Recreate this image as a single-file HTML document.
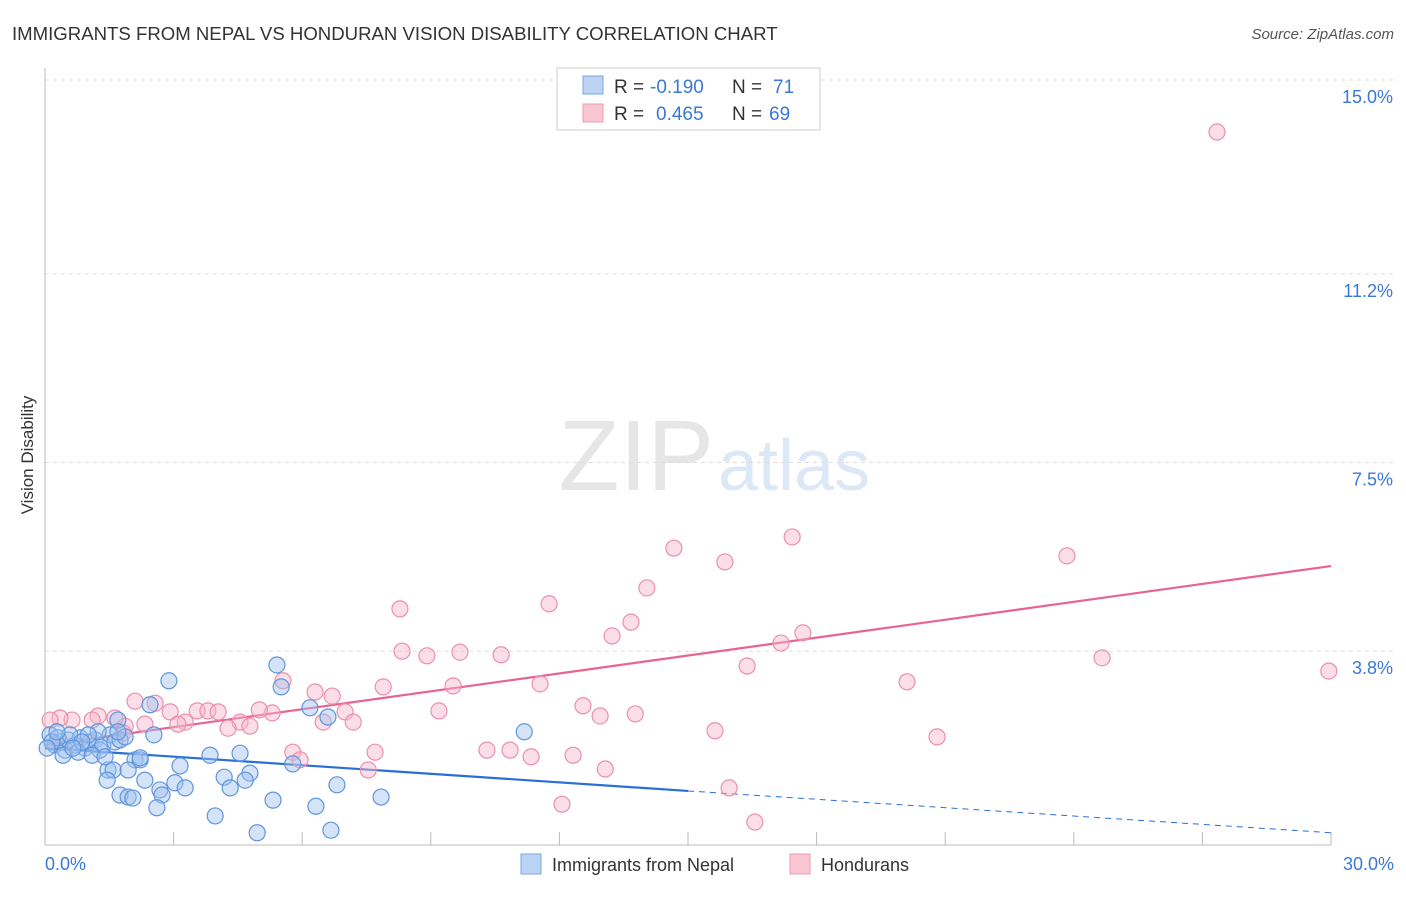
<!DOCTYPE html>
<html><head><meta charset="utf-8"><style>
body{margin:0;background:#fff;font-family:"Liberation Sans",sans-serif;}
svg text{font-family:"Liberation Sans",sans-serif;}
</style></head><body>
<svg id="chart" width="1406" height="892" viewBox="0 0 1406 892" xmlns="http://www.w3.org/2000/svg">
<text x="12" y="40" font-size="18.6" fill="#333">IMMIGRANTS FROM NEPAL VS HONDURAN VISION DISABILITY CORRELATION CHART</text>
<text x="1394" y="39" font-size="15" fill="#555" text-anchor="end" font-style="italic">Source: ZipAtlas.com</text>
<text x="714" y="490" font-size="100" fill="#e6e6e6" text-anchor="end" font-family="Liberation Serif">ZIP</text>
<text x="718" y="490" font-size="72" fill="#dce8f6">atlas</text>
<text transform="translate(33,455) rotate(-90)" font-size="17" fill="#333" text-anchor="middle">Vision Disability</text>
<g id="grid"></g>
<g id="axes"></g>
<g id="lines"></g>
<g id="pts"></g>
<g>
<rect x="557" y="68" width="263" height="62" fill="#fff" stroke="#ccc"/>
<rect x="583" y="76" width="20" height="18" fill="#bcd4f4" stroke="#7aa6e0"/>
<rect x="583" y="104" width="20" height="18" fill="#f9c6d4" stroke="#ee9ab0"/>
<text x="614" y="93" font-size="19" fill="#333">R =</text>
<text x="650" y="93" font-size="19" fill="#3b78d6">-0.190</text>
<text x="732" y="93" font-size="19" fill="#333">N =</text>
<text x="773" y="93" font-size="19" fill="#3b78d6">71</text>
<text x="614" y="120" font-size="19" fill="#333">R =</text>
<text x="656" y="120" font-size="19" fill="#3b78d6">0.465</text>
<text x="732" y="120" font-size="19" fill="#333">N =</text>
<text x="769" y="120" font-size="19" fill="#3b78d6">69</text>
</g>
<g>
<rect x="521" y="854" width="20" height="20" fill="#bcd4f4" stroke="#7aa6e0"/>
<text x="552" y="871" font-size="18" fill="#333">Immigrants from Nepal</text>
<rect x="790" y="854" width="20" height="20" fill="#f9c6d4" stroke="#ee9ab0"/>
<text x="821" y="871" font-size="18" fill="#333">Hondurans</text>
</g>
</svg>
<script>
const yTicks=[15.0,11.2,7.5,3.8];
const yTickLabels=["15.0%","11.2%","7.5%","3.8%"];
const xTickLabels=["0.0%","30.0%"];
const blueX=[2.89,5.41,5.51,6.18,6.60,2.45,1.70,2.54,11.18,3.85,4.55,5.78,3.15,2.10,2.22,1.47,1.59,1.94,2.33,1.45,3.03,3.27,4.18,4.32,4.78,4.67,6.81,2.68,2.73,1.75,1.94,2.05,2.61,5.32,6.32,7.84,3.97,4.95,6.67,0.12,0.23,0.35,0.47,0.54,0.70,0.82,0.93,1.05,1.17,1.28,1.35,1.52,1.63,1.75,1.87,1.24,1.01,0.30,0.16,0.58,0.77,1.10,1.40,0.42,2.22,1.70,0.86,0.65,0.05,0.28];
const blueY=[3.22,3.53,3.10,2.69,2.51,2.75,2.45,2.16,2.22,1.76,1.80,1.59,1.55,1.67,1.67,1.47,1.47,1.47,1.27,1.27,1.22,1.12,1.33,1.12,1.41,1.27,1.18,1.08,0.98,0.98,0.94,0.92,0.73,0.88,0.76,0.94,0.57,0.24,0.29,2.16,1.96,2.02,1.86,2.06,1.96,2.10,1.90,2.02,2.06,1.86,1.96,2.16,2.02,2.06,2.12,2.22,2.16,2.10,2.02,2.16,1.82,1.76,1.73,1.76,1.71,2.22,2.02,1.90,1.90,2.22];
const pinkX=[27.34,23.84,17.43,14.67,15.86,14.04,11.76,8.28,13.67,13.23,17.68,17.17,8.33,8.91,9.68,10.64,16.38,24.66,29.95,20.11,11.55,9.52,7.89,6.30,6.70,5.55,12.55,12.95,13.77,9.19,5.30,5.0,7.0,7.19,6.49,15.63,20.81,10.31,10.85,11.34,12.32,7.70,5.78,5.95,7.54,13.07,15.96,12.06,16.56,2.10,2.57,2.92,3.55,3.80,4.04,4.55,4.78,4.27,3.27,3.10,2.33,1.87,1.63,1.24,1.10,0.63,0.35,0.12,1.82];
const pinkY=[13.98,5.67,6.04,5.82,5.55,5.04,4.73,4.63,4.37,4.10,4.16,3.96,3.80,3.71,3.78,3.73,3.51,3.67,3.41,3.20,3.16,3.12,3.10,3.00,2.92,3.22,2.73,2.53,2.57,2.63,2.59,2.65,2.61,2.41,2.41,2.24,2.12,1.86,1.86,1.73,1.76,1.82,1.82,1.67,1.47,1.49,1.12,0.80,0.45,2.82,2.78,2.61,2.63,2.63,2.61,2.41,2.33,2.29,2.41,2.37,2.37,2.33,2.49,2.53,2.45,2.45,2.49,2.45,2.20];
const blueTrendX=[0,15,30];
const blueTrendY=[1.90,1.06,0.24];
const pinkTrendX=[0,30];
const pinkTrendY=[1.96,5.47];
const NS="http://www.w3.org/2000/svg";
const X0=45,X1=1331,Y0=845,PPY=51.0;
const sx=v=>X0+(v/30)*(X1-X0);
const sy=v=>Y0-v*PPY;
function mk(tag,attrs,parent){const e=document.createElementNS(NS,tag);for(const k in attrs)e.setAttribute(k,attrs[k]);parent.appendChild(e);return e;}
const grid=document.getElementById('grid'),axes=document.getElementById('axes'),lines=document.getElementById('lines'),pts=document.getElementById('pts');
yTicks.forEach((t,i)=>{
 const l=mk('line',{x1:X0,x2:1394,y1:sy(t),y2:sy(t),stroke:'#ddd','stroke-dasharray':'4,4'},grid);
 
 
 const tx=mk('text',{x:1393,y:sy(t)+23,'font-size':18,fill:'#3b78d6','text-anchor':'end'},axes);
 tx.textContent=yTickLabels[i];
 
 
});
const al=mk('line',{x1:X0,x2:X0,y1:68,y2:Y0,stroke:'#bbb'},axes);


const bl=mk('line',{x1:X0,x2:X1,y1:Y0,y2:Y0,stroke:'#bbb'},axes);


for(let i=0;i<=10;i++){
 const t=mk('line',{x1:sx(i*3),x2:sx(i*3),y1:Y0-13,y2:Y0,stroke:'#bbb'},axes);
 
 
}
[[0,'start',X0],[1,'end',1394]].forEach(([i,a,x])=>{
 const t=mk('text',{x:x,y:870,'font-size':18,fill:'#3b78d6','text-anchor':a},axes);
 t.textContent=xTickLabels[i];
 
 
});
function dots(xs,ys,fill,stroke,name){
 xs.forEach((x,i)=>{
  const c=mk('circle',{cx:sx(x),cy:sy(ys[i]),r:8,fill:fill,'fill-opacity':0.45,stroke:stroke,'stroke-width':1.2},pts);
  
  
 });
}
dots(pinkX,pinkY,'#f7b6c9','#ec8fab','honduran-point');
dots(blueX,blueY,'#9fc2ef','#5f95dc','nepal-point');
const pl=mk('line',{x1:sx(pinkTrendX[0]),y1:sy(pinkTrendY[0]),x2:sx(pinkTrendX[1]),y2:sy(pinkTrendY[1]),stroke:'#e8648e','stroke-width':2.2},lines);


const b1=mk('line',{x1:sx(blueTrendX[0]),y1:sy(blueTrendY[0]),x2:sx(blueTrendX[1]),y2:sy(blueTrendY[1]),stroke:'#2a6fd6','stroke-width':2.2},lines);


const b2=mk('line',{x1:sx(blueTrendX[1]),y1:sy(blueTrendY[1]),x2:sx(blueTrendX[2]),y2:sy(blueTrendY[2]),stroke:'#2a6fd6','stroke-width':1,'stroke-dasharray':'6,5'},lines);


</script>
</body></html>
